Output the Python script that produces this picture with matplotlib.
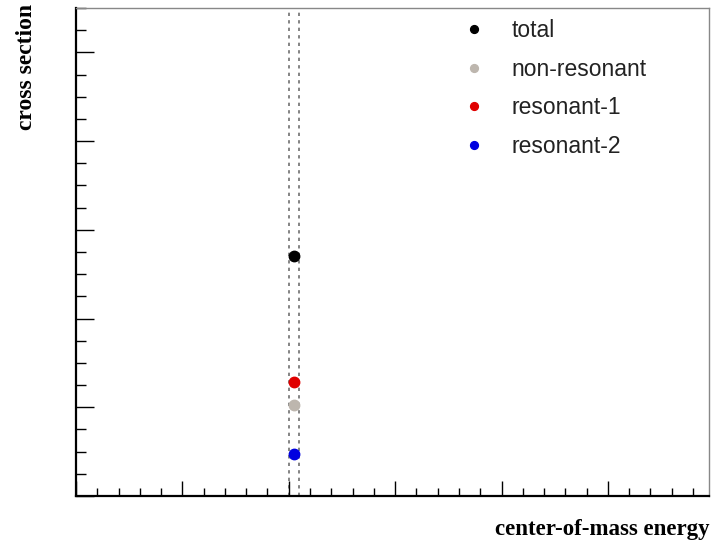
import matplotlib
matplotlib.use("Agg")
import matplotlib.pyplot as plt
from matplotlib.ticker import MultipleLocator

# data
labels = ["total", "non-resonant", "resonant-1", "resonant-2"]
colors = ["#000000", "#bdb6ae", "#e00000", "#0000e0"]
energy = [2.05, 2.05, 2.05, 2.05]
xsec = [2.70, 1.03, 1.29, 0.47]
window = [2.0, 2.1]

fig = plt.figure(figsize=(7.12, 5.45), dpi=100)
ax = fig.add_axes([76/712, 49/545, (709-76)/712, (496-8)/545])
ax.set_xlim(0, 5.95)
ax.set_ylim(0, 5.5)

for xv in window:
    ax.axvline(xv, color="#707070", lw=1.2, ls=(0, (2.0, 2.5)), zorder=1)

handles = []
for lab, c, xv, yv in zip(labels, colors, energy, xsec):
    h, = ax.plot([xv], [yv], ls="none", marker="o", ms=7.5, color=c, mec=c, label=lab, zorder=3)
    handles.append(h)

ax.xaxis.set_major_locator(MultipleLocator(1))
ax.xaxis.set_minor_locator(MultipleLocator(0.2))
ax.yaxis.set_major_locator(MultipleLocator(1))
ax.yaxis.set_minor_locator(MultipleLocator(0.25))
ax.tick_params(axis="x", which="major", direction="in", length=11, width=1, labelbottom=False)
ax.tick_params(axis="x", which="minor", direction="in", length=6, width=1)
ax.tick_params(axis="y", which="major", direction="in", length=13, width=1, labelleft=False)
ax.tick_params(axis="y", which="minor", direction="in", length=7, width=1)

for s in ["left", "bottom"]:
    ax.spines[s].set_linewidth(1.6)
    ax.spines[s].set_color("black")
for s in ["top", "right"]:
    ax.spines[s].set_linewidth(1.0)
    ax.spines[s].set_color("#888888")

fig.text(27/712, 1 - 4/545, "cross section", rotation=90, ha="center", va="top",
         family="Liberation Serif", weight="bold", fontsize=17)
fig.text(710/712, 1 - 530/545, "center-of-mass energy", ha="right", va="center",
         family="Liberation Serif", weight="bold", fontsize=16.5)

leg = ax.legend(handles=handles, loc="upper left", bbox_to_anchor=(463/712, 1 - 19/545),
                bbox_transform=fig.transFigure, frameon=False,
                prop={"family": "Liberation Sans", "size": 16.5},
                markerscale=0.75, handlelength=1.0, handletextpad=1.1, labelspacing=0.68,
                borderaxespad=0, borderpad=0)
for t in leg.get_texts():
    t.set_color("#222222")

fig.savefig("out.png", dpi=100)
